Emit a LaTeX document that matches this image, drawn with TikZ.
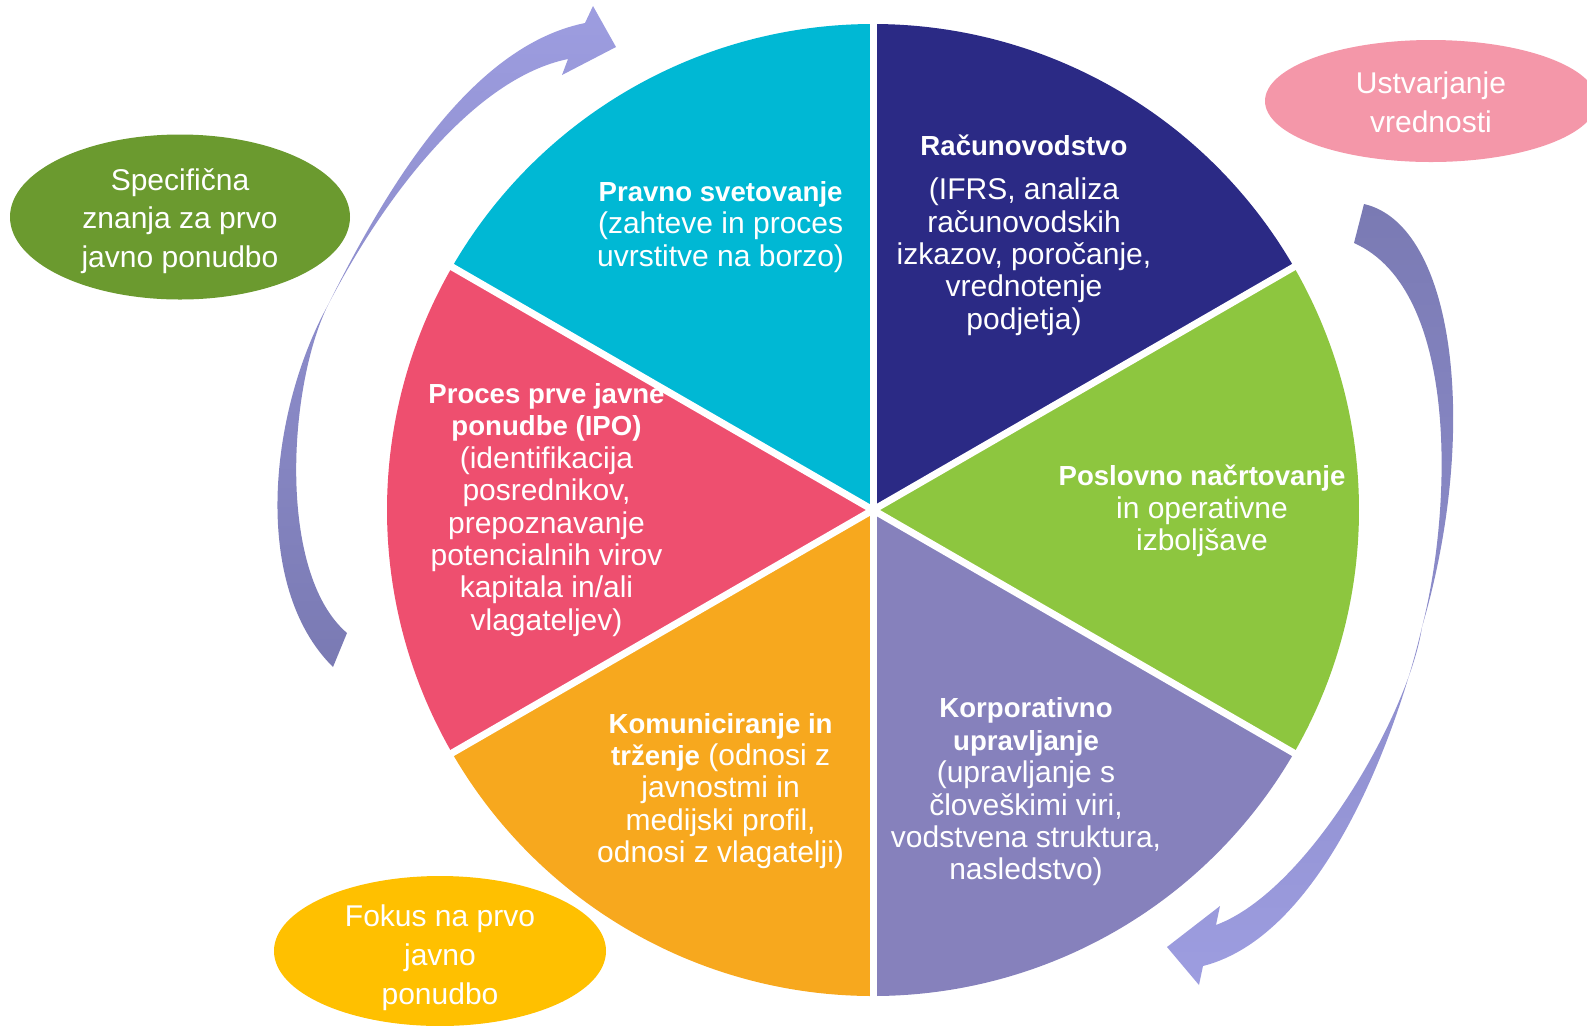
\documentclass[tikz,border=0pt]{standalone}
\usepackage{fontspec}
\setmainfont{Liberation Sans}
\usetikzlibrary{shapes.geometric}
\definecolor{SecNavy}{HTML}{2B2A85}
\definecolor{SecGreen}{HTML}{8DC63F}
\definecolor{SecPurple}{HTML}{8681BC}
\definecolor{SecOrange}{HTML}{F7A81E}
\definecolor{SecRed}{HTML}{EE4F6F}
\definecolor{SecCyan}{HTML}{00B8D4}
\definecolor{BubOlive}{HTML}{6B9A2F}
\definecolor{BubPink}{HTML}{F497A9}
\definecolor{BubGold}{HTML}{FFC000}
\definecolor{ArrDark}{HTML}{7A7AB3}
\definecolor{ArrLight}{HTML}{9D9DE0}
\newcommand{\headtxt}[1]{{\fontsize{13.8}{16.2}\selectfont\bfseries #1}}

\begin{document}
\begin{tikzpicture}[x=0.5pt, y=-0.5pt,
  pietxt/.style={text=white, align=center, inner sep=0pt, font=\fontsize{15}{16.2}\selectfont},
  bubtxt/.style={text=white, align=center, inner sep=0pt, font=\fontsize{15}{19.4}\selectfont},
  gap/.style={draw=white, line width=3.5pt}]
  \useasboundingbox (0,0) rectangle (1587,1025);
  \clip (0,0) rectangle (1587,1025);

  % pie (y runs down, so angles turn clockwise)
  \coordinate (ctr) at (873,510);
  \foreach \col [count=\i] in {SecNavy,SecGreen,SecPurple,SecOrange,SecRed,SecCyan}{
    \pgfmathsetmacro\a{-150+60*\i}
    \fill[\col] (ctr) -- ++(\a:486) arc[start angle=\a, delta angle=60, radius=486] -- cycle;
  }
  \foreach \a in {-90,-30,...,210}
    \draw[gap] (ctr) -- ++(\a:495);

  \node[pietxt] (pravno) at (720.6,227) {\headtxt{Pravno svetovanje}\\(zahteve in proces\\uvrstitve na borzo)};
  \node[pietxt] (racun) at (1024,235) {\headtxt{Računovodstvo}\\[6pt](IFRS, analiza\\računovodskih\\izkazov, poročanje,\\vrednotenje\\podjetja)};
  \node[pietxt] (poslovno) at (1202,511) {\headtxt{Poslovno načrtovanje}\\in operativne\\izboljšave};
  \node[pietxt] (ipo) at (546.5,510) {\headtxt{Proces prve javne}\\\headtxt{ponudbe (IPO)}\\(identifikacija\\posrednikov,\\prepoznavanje\\potencialnih virov\\kapitala in/ali\\vlagateljev)};
  \node[pietxt] (komun) at (720.6,791) {\headtxt{Komuniciranje in}\\\headtxt{trženje} (odnosi z\\javnostmi in\\medijski profil,\\odnosi z vlagatelji)};
  \node[pietxt] (korp) at (1026,792) {\headtxt{Korporativno}\\\headtxt{upravljanje}\\(upravljanje s\\človeškimi viri,\\vodstvena struktura,\\nasledstvo)};

  % bubbles
  \fill[BubOlive] (180,217) ellipse[x radius=170, y radius=82.5];
  \node[bubtxt] (spec) at (180,221) {Specifična\\znanja za prvo\\javno ponudbo};
  \fill[BubPink] (1431,101) ellipse[x radius=166, y radius=61];
  \node[bubtxt] (ustv) at (1431,102) {Ustvarjanje\\vrednosti};
  \fill[BubGold] (440,951) ellipse[x radius=166, y radius=75];
  \node[bubtxt] (fokus) at (440,958) {Fokus na prvo\\javno\\ponudbo};

  % left sweep, tail at the bottom, pinched at (328,305)
  \shade[top color=ArrLight, bottom color=ArrDark]
    (333,667) .. controls (250,585) and (270,410) .. (328,305)
    .. controls (382,197) and (467,47) .. (585,23)
    -- (593,6) -- (616,47) -- (562,75) -- (568,59)
    .. controls (475,78) and (385,195) .. (328,305)
    .. controls (288,386) and (277,573) .. (347,633) -- cycle;

  % right sweep, tail at the top, pinched at (1422,627)
  \shade[top color=ArrDark, bottom color=ArrLight]
    (1364,204) .. controls (1455,225) and (1480,430) .. (1422,627)
    .. controls (1398,730) and (1325,935) .. (1203,966)
    -- (1199,985) -- (1167,947) -- (1220,906) -- (1216,925)
    .. controls (1310,890) and (1410,710) .. (1422,627)
    .. controls (1452,510) and (1460,290) .. (1354,243) -- cycle;
\end{tikzpicture}
\end{document}
